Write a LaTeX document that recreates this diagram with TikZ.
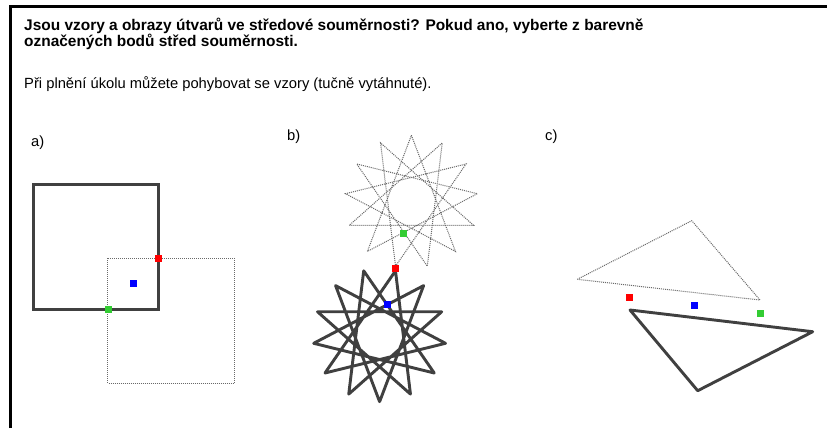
\documentclass[tikz,border=0pt]{standalone}
\usepackage{fontspec}
\setmainfont{Liberation Sans}
\definecolor{shapecol}{RGB}{64,64,64}
\definecolor{imgcol}{RGB}{105,105,105}
\definecolor{ptred}{RGB}{255,0,0}
\definecolor{ptblue}{RGB}{0,0,255}
\definecolor{ptgreen}{RGB}{51,204,51}
\begin{document}
\begin{tikzpicture}[x=1bp,y=-1bp,
  vzor/.style={draw=shapecol, line width=2.9bp, line join=round, line cap=round},
  obraz/.style={draw=imgcol, line width=1bp, dash pattern=on 1bp off 1bp},
  pt/.style={rectangle, minimum size=7bp, inner sep=0pt, draw=none},
  txt/.style={anchor=base west, inner sep=0pt},
  titlefont/.style={font=\fontsize{15.5}{17}\selectfont\bfseries},
  bodyfont/.style={font=\fontsize{14.8}{17}\selectfont}]
\useasboundingbox (0,0) rectangle (827,428);
\fill[white] (0,0) rectangle (827,428);
% frame
\draw[line width=3bp] (10.5,428) -- (10.5,6.5) -- (827,6.5);
% texts
\node[txt, titlefont] (t1) at (24,30.5) {Jsou vzory a obrazy útvarů ve středové souměrnosti? Pokud ano, vyberte z barevně};
\node[txt, titlefont] (t2) at (24,46.8) {označených bodů střed souměrnosti.};
\node[txt, bodyfont] (t3) at (24,88.5) {Při plnění úkolu můžete pohybovat se vzory (tučně vytáhnuté).};
\node[txt, bodyfont] (la) at (31,146) {a)};
\node[txt, bodyfont] (lb) at (287,140) {b)};
\node[txt, bodyfont] (lc) at (545,140) {c)};
% a) squares
\draw[obraz] (107.7,258.3) rectangle (234.3,383.3);
\draw[vzor, line cap=butt, line join=miter] (33.3,184.3) rectangle (158.3,309.3);
\node[pt, fill=ptred] (aR) at (158.5,258) {};
\node[pt, fill=ptblue] (aB) at (133.5,283.5) {};
\node[pt, fill=ptgreen] (aG) at (108.5,309.5) {};
% b) stars
\draw[obraz] plot[samples at={0,...,13}, variable=\k]
  ({411.4+66.4*cos(270+\k*138.4615)},{201.7+66.4*sin(270+\k*138.4615)}) -- cycle;
\draw[vzor] plot[samples at={0,...,13}, variable=\k]
  ({379.6+66.4*cos(90+\k*138.4615)},{335.3+66.4*sin(90+\k*138.4615)}) -- cycle;
\node[pt, fill=ptgreen] (bG) at (403,233.5) {};
\node[pt, fill=ptred] (bR) at (395.5,268.5) {};
\node[pt, fill=ptblue] (bB) at (387.5,304) {};
% c) triangles
\draw[obraz] (577.3,279.3) -- (691.7,220.7) -- (760,300) -- cycle;
\draw[vzor] (630,310) -- (812.7,331.7) -- (697.7,390.7) -- cycle;
\node[pt, fill=ptred] (cR) at (629,297.7) {};
\node[pt, fill=ptblue] (cB) at (694.7,305.3) {};
\node[pt, fill=ptgreen] (cG) at (760.3,313) {};
\end{tikzpicture}
\end{document}
